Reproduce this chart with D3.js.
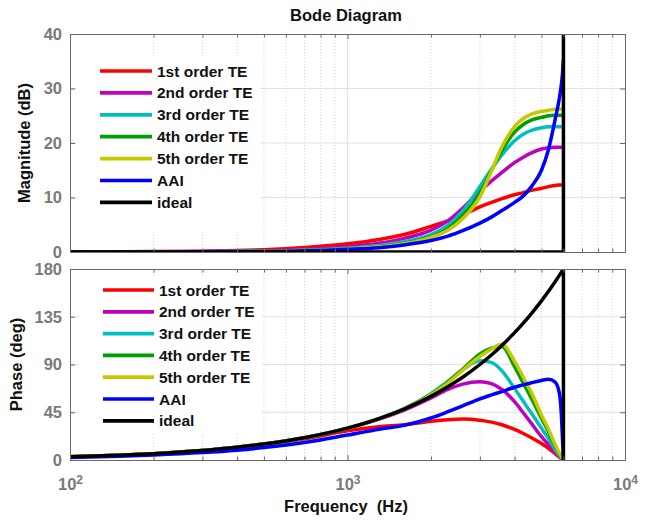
<!DOCTYPE html>
<html><head><meta charset="utf-8">
<script src="https://cdn.jsdelivr.net/npm/d3@7"></script>
<style>
body{margin:0;background:#fff}
text{font-family:"Liberation Sans",Arial,Helvetica,sans-serif;font-weight:bold}
</style>
</head><body>
<svg id="chart" width="653" height="520"></svg>
<script>
// ---------- data ----------
const freq = [100,150,200,300,400,500,700,1000,1300,1600,2000,2300,2600,3000,3300,3600,4000,4300,4600,5000,5300,5600,5800,5900,5960,6000];

const mag1st = [0.02,0.04,0.07,0.15,0.27,0.42,0.82,1.5,2.3,3.2,4.7,5.7,6.8,8.3,9.1,9.8,10.5,10.9,11.3,11.7,12.0,12.2,12.3,12.3,12.3,12.3];
const mag2nd = [0.01,0.02,0.03,0.07,0.13,0.2,0.42,0.95,1.6,2.5,4.0,5.7,8.0,11.2,13.0,14.6,16.4,17.4,18.2,18.9,19.1,19.2,19.2,19.2,19.2,19.2];
const mag3rd = [0.01,0.02,0.03,0.06,0.1,0.16,0.33,0.7,1.2,1.9,3.2,4.9,7.5,12.0,15.2,17.8,20.4,21.6,22.3,22.8,23.0,23.0,23.0,23.0,23.0,23.0];
const mag4th = [0.01,0.01,0.02,0.05,0.09,0.14,0.29,0.6,1.0,1.6,2.8,4.3,6.7,10.8,14.9,18.6,22.0,23.4,24.2,24.7,25.0,25.1,25.1,25.1,25.1,25.1];
const mag5th = [0.01,0.01,0.02,0.05,0.08,0.13,0.27,0.55,0.95,1.5,2.7,4.0,6.1,10.1,14.8,19.3,23.0,24.5,25.3,25.8,26.0,26.2,26.2,26.2,26.2,26.2];
const magAAI = [0.01,0.01,0.02,0.04,0.07,0.11,0.22,0.5,0.8,1.3,2.1,2.9,3.9,5.3,6.4,7.6,9.1,10.3,12.0,15.0,18.8,24.3,28.2,30.8,33.0,35.3];
const magIdeal = [0,0,0,0,0,0,0,0,0,0,0,0,0,0,0,0,0,0,0,0,0,0,0,0,0,0];

const ph1st = [3.0,4.5,6.0,8.9,11.8,14.6,19.9,27.5,31.3,33.2,36.5,38.0,38.6,37.5,35.7,33.2,28.8,25.0,21.0,15.5,11.0,6.0,2.8,1.4,0.5,0];
const ph2nd = [3,4.5,6,9,12,15,20.9,29.8,38.5,47,58.5,66.5,71.5,73.8,72,66.5,55,44.5,34.5,22,14.5,7.5,3.3,1.7,0.6,0];
const ph3rd = [3,4.5,6,9,12,15,21,30,39.2,48.5,62.5,74,85,93.5,92,84,67.5,55.3,44,29.9,20.2,9.9,4.2,2,0.7,0];
const ph4th = [3,4.5,6,9,12,15,21,30,39,48.3,62,73.5,85.5,100,105.5,107,88,72.5,58,39.3,26.6,13.2,5.7,2.9,0.9,0];
const ph5th = [3,4.5,6,9,12,15,21,30,39,48.1,61.5,72.5,84.5,97.5,104.5,109,93,78,63.5,42.5,29,14.5,6.5,3.2,0.9,0];
const phAAI = [2.3,3.5,4.7,7.0,9.3,11.7,16.4,23.5,29,32.6,39.6,45.5,51,57.6,61.3,64.5,68.6,70.8,72.8,75.0,76.0,73.5,63,42,17,0];
const phIdeal = [3,4.5,6,9,12,15,21,30,39,48,60,69,78,90,99,108,120,129,138,150,159,168,174,177,178.8,180];

const nyquist = 6000;
const magIdealJump = [0, 40];
const phIdealJump = [180, 0];

const seriesNames = ["1st order TE","2nd order TE","3rd order TE","4th order TE","5th order TE","AAI","ideal"];
const seriesColors = ["#ff0000","#bf00bf","#00bfbf","#00a000","#c8c800","#0000ff","#000000"];

const magTicks = [0,10,20,30,40];
const phaseTicks = [0,45,90,135,180];
const freqMajor = [100,1000,10000];
const freqMinor = [200,300,400,500,600,700,800,900,2000,3000,4000,5000,6000,7000,8000,9000];

const titleText = "Bode Diagram";
const xLabel = "Frequency  (Hz)";
const magLabel = "Magnitude (dB)";
const phaseLabel = "Phase (deg)";

// ---------- layout ----------
const svg = d3.select("#chart");
const left = 70, right = 625;
const x = d3.scaleLog().domain([100,10000]).range([left,right]);

const panels = [
  {top:34, bottom:252, domain:[0,40], ticks:magTicks, label:magLabel, labelX:29.5,
   series:[mag1st,mag2nd,mag3rd,mag4th,mag5th,magAAI,magIdeal], jump:magIdealJump,
   legend:{x:77,y:57,w:183,h:173,row0:71,dy:21.9,lx0:100,lx1:152,tx:157}, xLabels:false},
  {top:269, bottom:460, domain:[0,180], ticks:phaseTicks, label:phaseLabel, labelX:22,
   series:[ph1st,ph2nd,ph3rd,ph4th,ph5th,phAAI,phIdeal], jump:phIdealJump,
   legend:{x:79,y:276,w:183,h:156,row0:290,dy:21.8,lx0:103,lx1:154,tx:159}, xLabels:true}
];

const axisColor = "#6a6a6a";
const tickTextColor = "#7a7a7a";

panels.forEach((p, pi) => {
  const y = d3.scaleLinear().domain(p.domain).range([p.bottom, p.top]);
  const g = svg.append("g");

  // grid
  g.append("g").selectAll("line").data(freqMinor).join("line")
    .attr("x1", d => x(d)).attr("x2", d => x(d))
    .attr("y1", p.top).attr("y2", p.bottom)
    .attr("stroke", "#d6d6d6").attr("stroke-width", 1).attr("stroke-dasharray", "1,2");
  g.append("g").selectAll("line").data(freqMajor.slice(1,-1)).join("line")
    .attr("x1", d => x(d)).attr("x2", d => x(d))
    .attr("y1", p.top).attr("y2", p.bottom)
    .attr("stroke", "#e2e2e2").attr("stroke-width", 1);
  g.append("g").selectAll("line").data(p.ticks.slice(1,-1)).join("line")
    .attr("x1", left).attr("x2", right)
    .attr("y1", d => y(d)).attr("y2", d => y(d))
    .attr("stroke", "#e2e2e2").attr("stroke-width", 1);

  // clip
  const clipId = "clip" + pi;
  svg.append("clipPath").attr("id", clipId).append("rect")
    .attr("x", left).attr("y", p.top).attr("width", right-left).attr("height", p.bottom-p.top);

  const curves = g.append("g").attr("clip-path", `url(#${clipId})`);
  const line = d3.line().x(d => x(d[0])).y(d => y(d[1])).curve(d3.curveMonotoneX);
  p.series.forEach((vals, si) => {
    const pts = freq.map((f, i) => [f, vals[i]]);
    curves.append("path").attr("d", line(pts))
      .attr("fill", "none").attr("stroke", seriesColors[si])
      .attr("stroke-width", 3.5).attr("stroke-linejoin","round");
  });
  // ideal jump at Nyquist
  curves.append("path")
    .attr("d", d3.line().x(d => x(nyquist)).y(d => y(d))(p.jump))
    .attr("fill","none").attr("stroke","#000").attr("stroke-width",3.5);

  // axes
  const styleAxis = sel => {
    sel.select(".domain").attr("stroke", axisColor);
    sel.selectAll(".tick line").attr("stroke", axisColor);
    sel.selectAll(".tick text").attr("fill", tickTextColor).style("font-size","16.5px");
  };
  const fmtNone = () => "";
  g.append("g").attr("transform",`translate(0,${p.bottom})`)
    .call(d3.axisBottom(x).tickValues(freqMinor).tickSize(-3.5).tickSizeOuter(0).tickFormat(fmtNone)).call(styleAxis);
  g.append("g").attr("transform",`translate(0,${p.top})`)
    .call(d3.axisTop(x).tickValues(freqMinor).tickSize(-3.5).tickSizeOuter(0).tickFormat(fmtNone)).call(styleAxis);
  g.append("g").attr("transform",`translate(0,${p.top})`)
    .call(d3.axisTop(x).tickValues(freqMajor).tickSize(-5).tickSizeOuter(0).tickFormat(fmtNone)).call(styleAxis);
  const xb = g.append("g").attr("transform",`translate(0,${p.bottom})`)
    .call(d3.axisBottom(x).tickValues(freqMajor).tickSize(-5).tickSizeOuter(0).tickPadding(18)
      .tickFormat(p.xLabels ? (d => "10^" + Math.round(Math.log10(d))) : fmtNone))
    .call(styleAxis);
  if (p.xLabels) {
    xb.selectAll(".tick text").each(function(d) {
      const t = d3.select(this);
      t.text(null);
      t.append("tspan").text("10");
      t.append("tspan").attr("dy","-0.45em").style("font-size","12px").text(String(Math.round(Math.log10(d))));
    });
  }
  g.append("g").attr("transform",`translate(${left},0)`)
    .call(d3.axisLeft(y).tickValues(p.ticks).tickSize(-5).tickSizeOuter(0).tickPadding(8)).call(styleAxis);
  g.append("g").attr("transform",`translate(${right},0)`)
    .call(d3.axisRight(y).tickValues(p.ticks).tickSize(-5).tickSizeOuter(0).tickFormat(fmtNone)).call(styleAxis);

  // y label
  svg.append("text")
    .attr("transform", `translate(${p.labelX},${(p.top+p.bottom)/2}) rotate(-90)`)
    .attr("text-anchor","middle").style("font-size","16.5px").attr("fill","#111")
    .text(p.label);

  // legend
  const L = p.legend;
  const lg = svg.append("g");
  lg.append("rect").attr("x",L.x).attr("y",L.y).attr("width",L.w).attr("height",L.h).attr("fill","#fff");
  seriesNames.forEach((name, si) => {
    const yy = L.row0 + si*L.dy;
    lg.append("line").attr("x1",L.lx0).attr("x2",L.lx1).attr("y1",yy).attr("y2",yy)
      .attr("stroke",seriesColors[si]).attr("stroke-width",3.7);
    lg.append("text").attr("x",L.tx).attr("y",yy).attr("dy","0.36em")
      .style("font-size","15.5px").attr("fill","#111").text(name);
  });
});

// title and x label
svg.append("text").attr("x",346).attr("y",21).attr("text-anchor","middle")
  .style("font-size","16.5px").attr("fill","#111").text(titleText);
svg.append("text").attr("x",346).attr("y",512).attr("text-anchor","middle")
  .style("font-size","16.5px").style("white-space","pre").attr("fill","#111").text(xLabel);
</script>
</body></html>
